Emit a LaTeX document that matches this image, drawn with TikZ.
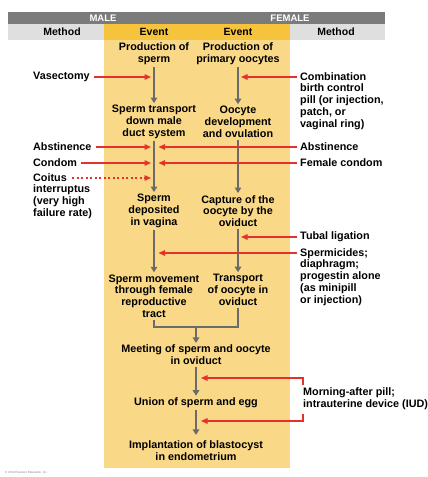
\documentclass[tikz,border=0pt]{standalone}
\usepackage{fontspec}
\setmainfont{Liberation Sans}
\usetikzlibrary{arrows.meta}
\definecolor{evtyellow}{HTML}{F9D987}
\definecolor{headyellow}{HTML}{F6C33C}
\definecolor{bargray}{HTML}{7B7B7B}
\definecolor{rowgray}{HTML}{DFDFDF}
\definecolor{linegray}{HTML}{6B6B6B}
\definecolor{blockred}{HTML}{E4312B}
\begin{document}
\begin{tikzpicture}[x=1pt, y=-1pt,
    event/.style={align=center, font=\fontsize{10.8}{11.8}\selectfont\bfseries, inner sep=2pt},
    side/.style={align=left, font=\fontsize{10.8}{11.8}\selectfont\bfseries, inner sep=0pt},
    colhead/.style={font=\fontsize{10.5}{12}\selectfont\bfseries, inner sep=0pt},
    barhead/.style={font=\fontsize{9.5}{11}\selectfont\bfseries, text=white, inner sep=0pt},
    garrow/.style={linegray, line width=2.4pt, -{Triangle[length=5.5pt, width=6.5pt]}},
    gline/.style={linegray, line width=2.4pt},
    rarrow/.style={blockred, line width=1.4pt, -{Triangle[length=6.5pt, width=5.5pt]}}]
    \useasboundingbox (0,0) rectangle (428,477);
    \fill[evtyellow] (104,24) rectangle (290,468);
    \fill[bargray] (8,12) rectangle (385,24);
    \fill[rowgray] (8,24) rectangle (104,40);
    \fill[rowgray] (290,24) rectangle (385,40);
    \fill[headyellow] (104,24) rectangle (290,40);
    \node[barhead] (male) at (103,18) {MALE};
    \node[barhead] (female) at (290,18) {FEMALE};
    \node[colhead] (methodL) at (62,32) {Method};
    \node[colhead] (eventL) at (154,32) {Event};
    \node[colhead] (eventR) at (238,32) {Event};
    \node[colhead] (methodR) at (336,32) {Method};

    \node[event] (prodS) at (154,54) {Production of\\sperm};
    \node[event] (prodO) at (238,54) {Production of\\primary oocytes};
    \node[event] (transS) at (154,122) {Sperm transport\\down male\\duct system};
    \node[event] (ovul) at (238,122) {Oocyte\\development\\and ovulation};
    \node[event] (depo) at (154,211) {Sperm\\deposited\\in vagina};
    \node[event] (capt) at (238,211) {Capture of the\\oocyte by the\\oviduct};
    \node[event] (moveS) at (154,296) {Sperm movement\\through female\\reproductive\\tract};
    \node[event] (transO) at (238,290) {Transport\\of oocyte in\\oviduct};
    \node[event] (meet) at (196,355) {Meeting of sperm and oocyte\\in oviduct};
    \node[event] (union) at (196,403) {Union of sperm and egg};
    \node[event] (impl) at (196,451) {Implantation of blastocyst\\in endometrium};

    \draw[garrow] (prodS) -- (transS);
    \draw[garrow] (prodO) -- (ovul);
    \draw[garrow] (transS) -- (depo);
    \draw[garrow] (ovul) -- (capt);
    \draw[garrow] (depo) -- (moveS);
    \draw[garrow] (capt) -- (transO);
    \coordinate (join) at (196,327);
    \draw[gline] (moveS.south) |- (join) -| (transO.south);
    \draw[garrow] (join) -- (meet);
    \draw[garrow] (meet) -- (union);
    \draw[garrow, shorten >=4pt] (union) -- (impl);

    \node[side, anchor=west] (vas) at (33,77) {Vasectomy};
    \draw[rarrow, shorten <=4pt, shorten >=3pt] (vas) -- (vas -| prodS);
    \node[side, anchor=north west] (combo) at (300,72) {Combination\\birth control\\pill (or injection,\\patch, or\\vaginal ring)};
    \draw[rarrow, shorten <=3pt, shorten >=3pt] ([yshift=-5pt]combo.north west) -- ([yshift=-5pt]combo.north west -| prodO);

    \node[side, anchor=west] (abstL) at (33,147) {Abstinence};
    \draw[rarrow, shorten <=4pt, shorten >=3pt] (abstL) -- (abstL -| transS);
    \node[side, anchor=west] (abstR) at (300,147) {Abstinence};
    \draw[rarrow, shorten <=3pt, shorten >=4.5pt] (abstR) -- (abstR -| transS);
    \node[side, anchor=west] (condom) at (33,163) {Condom};
    \draw[rarrow, shorten <=4pt, shorten >=3pt] (condom) -- (condom -| transS);
    \node[side, anchor=west] (fcondom) at (300,163) {Female condom};
    \draw[rarrow, shorten <=3pt, shorten >=4.5pt] (fcondom) -- (fcondom -| transS);
    \node[side, anchor=north west] (coitus) at (33,173) {Coitus\\interruptus\\(very high\\failure rate)};
    \coordinate (coitusend) at (72,178);
    \draw[rarrow, dash pattern=on 2pt off 2.5pt, shorten >=3pt] (coitusend) -- (coitusend -| transS);

    \node[side, anchor=west] (tubal) at (300,237) {Tubal ligation};
    \draw[rarrow, shorten <=3pt, shorten >=3pt] (tubal) -- (tubal -| capt);
    \node[side, anchor=north west] (spermi) at (300,248) {Spermicides;\\diaphragm;\\progestin alone\\(as minipill\\or injection)};
    \draw[rarrow, shorten <=3pt, shorten >=4.5pt] ([yshift=-5pt]spermi.north west) -- ([yshift=-5pt]spermi.north west -| depo);

    \node[side, anchor=west] (morning) at (303,399) {Morning-after pill;\\intrauterine device (IUD)};
    \coordinate (stopA) at (196,378);
    \coordinate (stopB) at (196,421);
    \draw[rarrow, shorten >=5pt] ([yshift=3pt]morning.north west) |- (stopA);
    \draw[rarrow, shorten >=5pt] ([yshift=-4pt]morning.south west) |- (stopB);

    \node[anchor=west, font=\fontsize{3}{3}\selectfont, text=gray, inner sep=0pt] (credit) at (5,473) {© 2014 Pearson Education, Inc.};
\end{tikzpicture}
\end{document}
